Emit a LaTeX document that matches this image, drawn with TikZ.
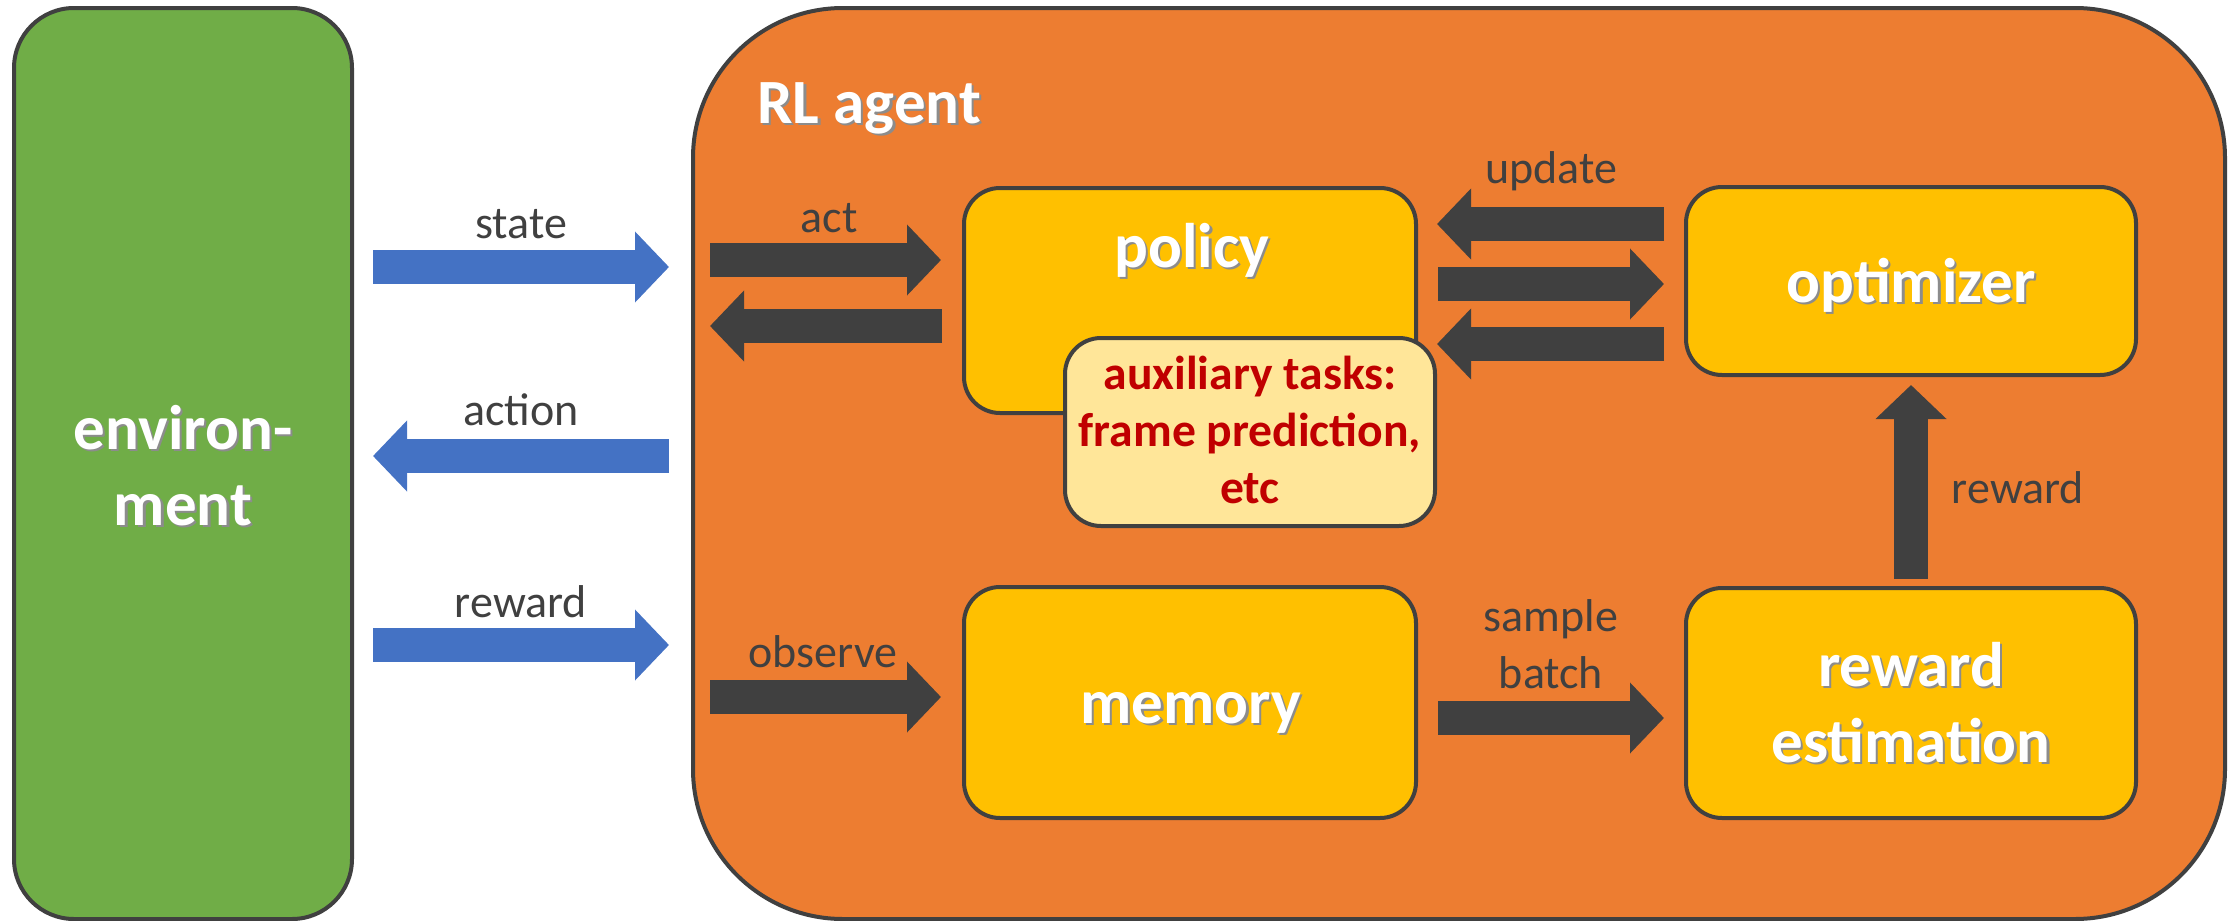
\documentclass[tikz,border=0pt]{standalone}
\usepackage{fontspec}
\setmainfont{Carlito}
\usetikzlibrary{arrows.meta,calc}
\definecolor{envgreen}{HTML}{70AD47}
\definecolor{agentorange}{HTML}{ED7D31}
\definecolor{boxgold}{HTML}{FFC000}
\definecolor{auxyellow}{HTML}{FFE699}
\definecolor{arrblue}{HTML}{4472C4}
\definecolor{dgray}{HTML}{404040}
\definecolor{dred}{HTML}{C00000}
\newcommand\shd[1]{\leavevmode\rlap{\kern1.1pt\raisebox{-1.1pt}{\textcolor{black!45}{#1}}}#1}
\begin{document}
\begin{tikzpicture}[x=0.5pt,y=-0.5pt,
  box/.style={draw=dgray, line width=2pt, inner sep=0pt, rounded corners=18pt},
  title/.style={text=white, font=\fontsize{31.5}{38}\selectfont\bfseries, inner sep=0pt, align=center},
  auxtext/.style={text=dred, font=\fontsize{23.8}{28.5}\selectfont\bfseries, inner sep=0pt, align=center},
  lbl/.style={text=dgray, font=\fontsize{23}{28.5}\selectfont, inner sep=0pt, align=center},
  bluearr/.style={draw=arrblue, line width=17pt, -{Triangle[length=17pt,width=34.5pt]}},
  darkarr/.style={draw=dgray, line width=17pt, -{Triangle[length=17pt,width=34.5pt]}},
]
\useasboundingbox (0,0) rectangle (2239,921);

% containers
\node[box, fill=envgreen, rounded corners=30pt, minimum width=169pt, minimum height=455.5pt] (env) at (183,463.5) {};
\node[box, fill=agentorange, rounded corners=75pt, minimum width=766pt, minimum height=455.5pt] (agent) at (1459,463.5) {};

% inner boxes
\node[box, fill=boxgold, minimum width=226pt, minimum height=112.5pt] (policy) at (1190,300.5) {};
\node[box, fill=boxgold, minimum width=225pt, minimum height=94pt] (optimizer) at (1911,281) {};
\node[box, fill=boxgold, minimum width=226pt, minimum height=115.5pt] (memory) at (1190,702.5) {};
\node[box, fill=boxgold, minimum width=225pt, minimum height=115pt] (rewest) at (1911,703) {};
\node[box, fill=auxyellow, minimum width=185pt, minimum height=94pt] (aux) at (1250,432) {};

% texts (base = baseline of last line)
\node[title, anchor=base] (tenv) at (183,525) {\shd{environ-}\\\shd{ment}};
\node[title, anchor=base west] (tagent) at (757,123) {\shd{RL agent}};
\node[title, anchor=base] (tpolicy) at (1192,267) {\shd{policy}};
\node[title, anchor=base] (topt) at (1911,302) {\shd{optimizer}};
\node[title, anchor=base] (tmem) at (1191,723) {\shd{memory}};
\node[title, anchor=base] (trew) at (1911,762) {\shd{reward}\\\shd{estimation}};
\node[auxtext, anchor=base] (taux) at (1250,503) {auxiliary tasks:\\frame prediction,\\etc};

% y levels
\coordinate (yState) at (0,267);
\coordinate (yAction) at (0,456);
\coordinate (yReward) at (0,645);
\coordinate (yAct) at (0,260);
\coordinate (yBack) at (0,326);
\coordinate (yObs) at (0,697);
\coordinate (yUpd) at (0,224);
\coordinate (yMid) at (0,284);
\coordinate (yLow) at (0,344);
\coordinate (ySample) at (0,718);

% blue arrows
\draw[bluearr] ($(env.east|-yState)+(19,0)$) -- ($(agent.west|-yState)+(-22,0)$);
\draw[bluearr] ($(agent.west|-yAction)+(-22,0)$) -- ($(env.east|-yAction)+(19,0)$);
\draw[bluearr] ($(env.east|-yReward)+(19,0)$) -- ($(agent.west|-yReward)+(-22,0)$);

% dark arrows
\draw[darkarr] ($(agent.west|-yAct)+(19,0)$) -- ($(policy.west|-yAct)+(-21,0)$);
\draw[darkarr] ($(policy.west|-yBack)+(-20,0)$) -- ($(agent.west|-yBack)+(19,0)$);
\draw[darkarr] ($(agent.west|-yObs)+(19,0)$) -- ($(memory.west|-yObs)+(-21,0)$);
\draw[darkarr] ($(optimizer.west|-yUpd)+(-20,0)$) -- ($(policy.east|-yUpd)+(19,0)$);
\draw[darkarr] ($(policy.east|-yMid)+(20,0)$) -- ($(optimizer.west|-yMid)+(-20,0)$);
\draw[darkarr] ($(optimizer.west|-yLow)+(-20,0)$) -- ($(policy.east|-yLow)+(19,0)$);
\draw[darkarr] ($(memory.east|-ySample)+(20,0)$) -- ($(rewest.west|-ySample)+(-20,0)$);
\draw[darkarr] ($(rewest.north)+(0,-7)$) -- ($(optimizer.south)+(0,8)$);

% labels
\node[lbl, anchor=base] (lstate) at (521,238) {state};
\node[lbl, anchor=base] (laction) at (521,425) {action};
\node[lbl, anchor=base] (lreward) at (521,617) {reward};
\node[lbl, anchor=base] (lact) at (829,232) {act};
\node[lbl, anchor=base] (lobs) at (823,667) {observe};
\node[lbl, anchor=base] (lupd) at (1551,183) {update};
\node[lbl, anchor=base] (lsb) at (1551,688) {sample\\batch};
\node[lbl, anchor=base] (lrw) at (2018,503) {reward};
\end{tikzpicture}
\end{document}
